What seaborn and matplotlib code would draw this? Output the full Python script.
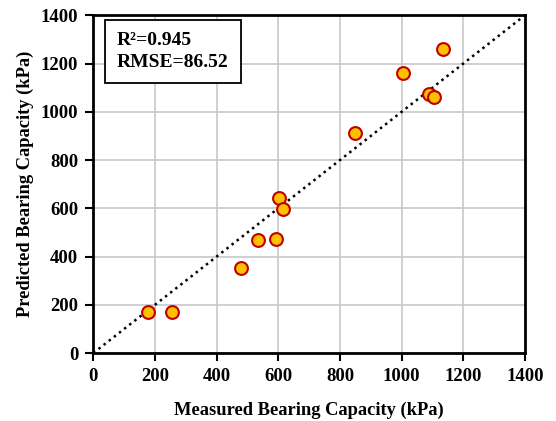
import matplotlib
matplotlib.use("Agg")
import matplotlib.pyplot as plt
import seaborn as sns
import pandas as pd

measured = [178, 254, 478, 533, 594, 603, 616, 849, 1006, 1090, 1106, 1133]
predicted = [168, 168, 353, 467, 472, 644, 597, 913, 1163, 1076, 1062, 1262]
ticks = [0, 200, 400, 600, 800, 1000, 1200, 1400]
line_x = [0, 1400]
line_y = [0, 1400]

sns.set_theme(style="whitegrid")
plt.rcParams['font.family'] = ['Liberation Serif', 'DejaVu Serif']
plt.rcParams['font.weight'] = 'bold'
plt.rcParams['text.color'] = 'black'
plt.rcParams['axes.labelcolor'] = 'black'

df = pd.DataFrame({"Measured": measured, "Predicted": predicted})

fig = plt.figure(figsize=(5.56, 4.21), dpi=100)
ax = fig.add_axes([0.168, 0.1615, 0.776, 0.802])

sns.lineplot(x=line_x, y=line_y, ax=ax, color="black", linestyle=(0, (1, 1.6)), linewidth=1.8)
sns.scatterplot(data=df, x="Measured", y="Predicted", ax=ax, s=85,
                color="#FFC000", edgecolor="#C00000", linewidth=1.5, zorder=3)

ax.set_xlim(0, 1400)
ax.set_ylim(0, 1400)
ax.set_xticks(ticks)
ax.set_yticks(ticks)
ax.set_xticklabels([str(t) for t in ticks], fontsize=13.5, fontweight="bold", color="black")
ax.set_yticklabels([str(t) for t in ticks], fontsize=13.5, fontweight="bold", color="black")
ax.set_xlabel("Measured Bearing Capacity (kPa)", fontsize=13.3, fontweight="bold", color="black", labelpad=12)
ax.set_ylabel("Predicted Bearing Capacity (kPa)", fontsize=13.3, fontweight="bold", color="black", labelpad=4.5)

ax.grid(True, color="#c8c8c8", linewidth=1.2)
for s in ax.spines.values():
    s.set_color("black")
    s.set_linewidth(2)
ax.tick_params(axis="both", direction="out", length=6, width=1.5, color="black",
               bottom=True, left=True, labelcolor="black", pad=5)

ax.text(0.055, 0.893, "R\u00b2=0.945\nRMSE=86.52", transform=ax.transAxes,
        fontsize=14, fontweight="bold", va="center", ha="left", linespacing=1.45,
        bbox=dict(boxstyle="square,pad=0.6", facecolor="white", edgecolor="black", linewidth=1.3),
        zorder=5)

fig.savefig("out.png", dpi=100)
